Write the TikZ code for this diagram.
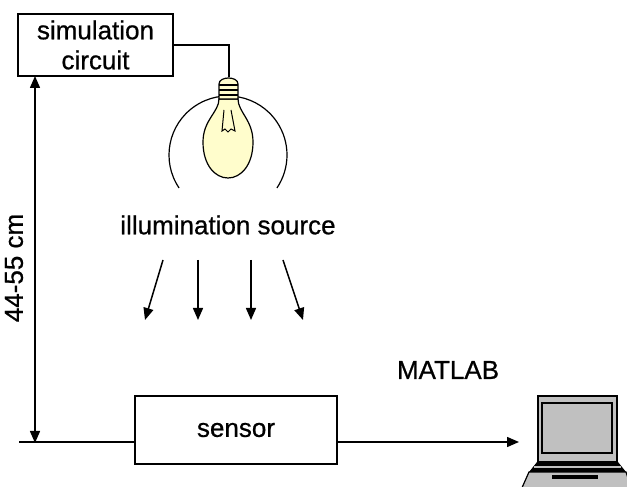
\documentclass[tikz,border=0pt]{standalone}
\usepackage{fontspec}
\setmainfont{Liberation Sans}
\newfontfamily\labelfont[FakeBold=0.7]{Liberation Sans}
\usetikzlibrary{arrows.meta,calc}
\definecolor{bulbfill}{RGB}{255,253,204}
\definecolor{padgray}{RGB}{192,192,192}

\begin{document}
\begin{tikzpicture}[x=0.5pt,y=0.5pt,
  box/.style={draw,line width=0.75pt,inner sep=0pt},
  wire/.style={line width=0.75pt},
  thinline/.style={line width=0.6pt},
  arr/.style={line width=0.75pt,-{Triangle[length=6pt,width=5pt]}},
  lbl/.style={font=\labelfont\fontsize{13}{15}\selectfont}]
\useasboundingbox (0,0) rectangle (627,487);
\clip (0,0) rectangle (627,487);

% controller box and its wire to the lamp
\node[box,lbl,minimum width=77.5pt,minimum height=31pt,align=center] (sim) at (95.5,442) {simulation\\circuit};
\coordinate (cap) at (229,410);
\draw[wire] (sim.east) -| (cap);

% reflector arc behind the lamp
\draw[thinline] (228,332) ++(214:59) arc[start angle=214,end angle=-34,radius=59];

% lamp: glass, filament, screw cap
\draw[thinline,fill=bulbfill] (219,388) .. controls (219,375) and (203,367) .. (203,345)
  .. controls (203,322) and (215,309) .. (228,309)
  .. controls (241,309) and (253,322) .. (253,345)
  .. controls (253,367) and (238,375) .. (238,388) -- cycle;
\draw[line width=0.5pt] (224,377) -- (222,356) -- (225,358) -- (228,355) -- (231,358) -- (235,356) -- (231,377);
\draw[thinline,fill=bulbfill] (219,388) -- (219,403) .. controls (219,411) and (238,411) .. (238,403) -- (238,388) -- cycle;
\foreach \s in {402,397,392} \draw[line width=0.7pt] (219,\s) -- (238,\s);

% light rays
\node[lbl] (src) at (228,262) {illumination source};
\foreach \a/\b [count=\i] in {163/145,198/198,251/251,283/303} {
  \coordinate (ray\i s) at (\a,227);
  \coordinate (ray\i e) at (\b,167);
  \draw[arr] (ray\i s) -- (ray\i e);
}

% distance marker
\coordinate (dimtop) at (35,411);
\coordinate (dimbot) at (35,44);
\draw[wire,{Triangle[length=6pt,width=5pt]}-{Triangle[length=6pt,width=5pt]}] (dimbot) -- (dimtop);
\node[lbl,rotate=90] (dimlbl) at (14,219) {44-55 cm};

% sensor and data line
\node[box,lbl,minimum width=101pt,minimum height=34pt] (sensor) at (236,57) {sensor};
\coordinate (gnd) at (19,45);
\coordinate (lapin) at (519,45);
\draw[wire] (gnd) -- (gnd -| sensor.west);
\draw[arr] (sensor.east |- gnd) -- (lapin);
\node[lbl] (matlab) at (448,117) {MATLAB};

% laptop
\draw[line width=0.8pt,fill=padgray] (538,25) rectangle (617,91);
\draw[line width=0.9pt,fill=padgray] (542,34) rectangle (612,84);
\draw[thinline,fill=padgray] (529,15) -- (626,15) -- (632,-3) -- (521,-3) -- cycle;
\fill (537,25) -- (618,25) -- (626,15) -- (529,15) -- cycle;
\draw[padgray,line width=1pt] (534,20) -- (621,20);
\fill (552,8) rectangle (598,12);
\end{tikzpicture}
\end{document}
